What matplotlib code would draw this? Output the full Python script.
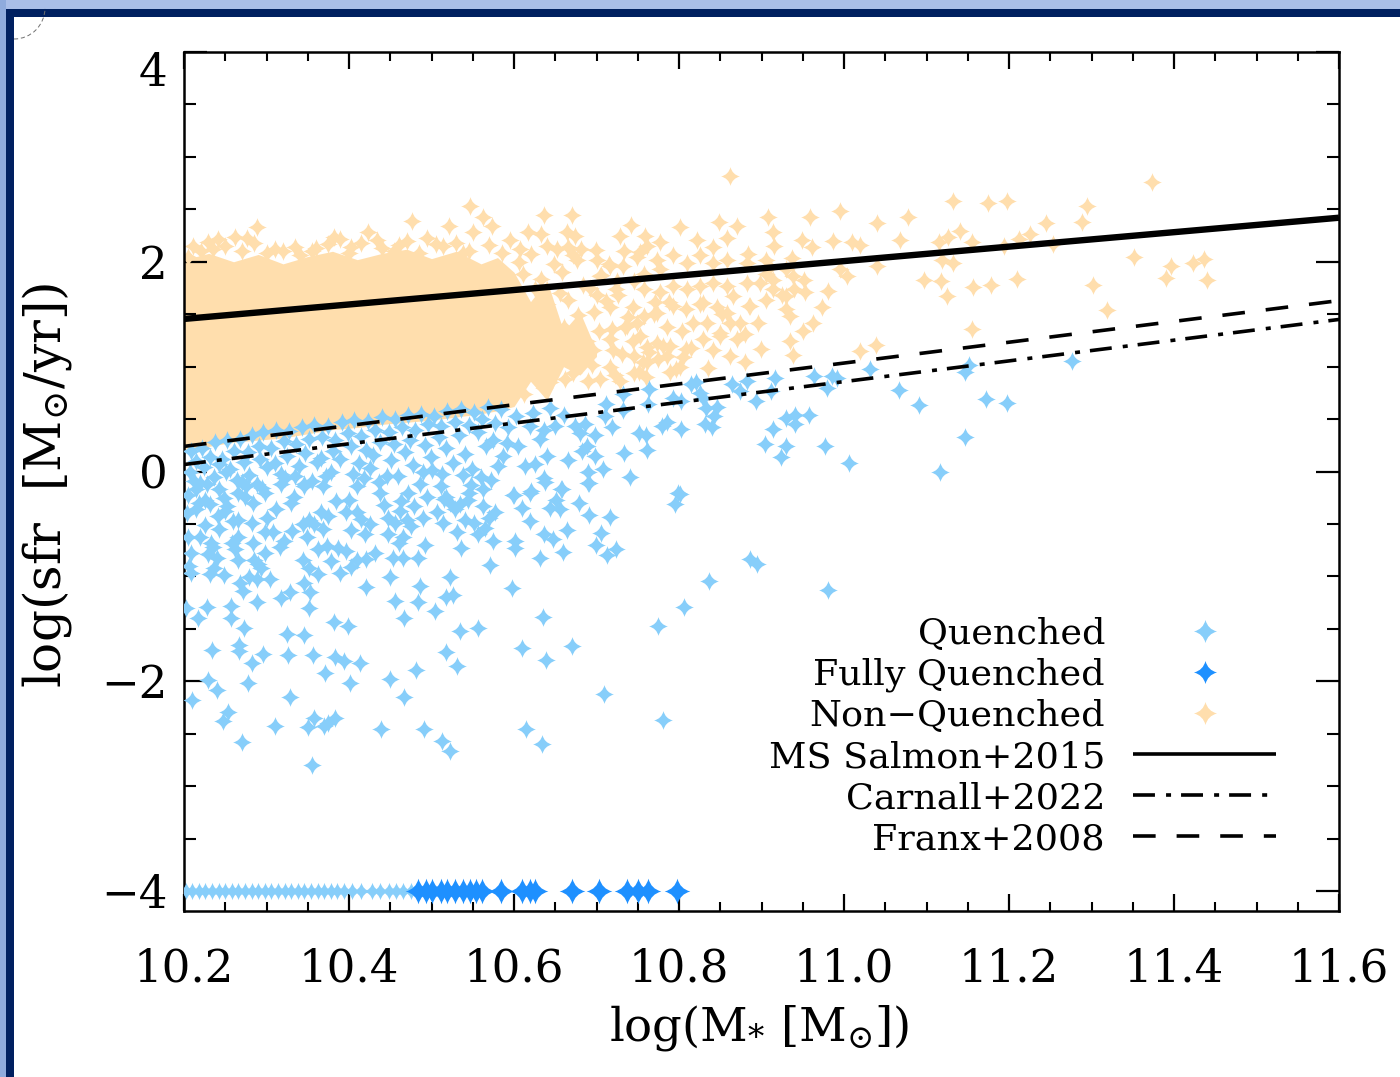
import matplotlib
matplotlib.use('Agg')
import matplotlib.pyplot as plt
from matplotlib.lines import Line2D
from matplotlib.path import Path
from matplotlib.patches import Rectangle, Arc

# solid part of the non-quenched cloud, too crowded to read single stars
dense_x = [10.2, 10.23, 10.26, 10.29, 10.32, 10.35, 10.38, 10.41, 10.44, 10.47, 10.50, 10.53,
           10.56, 10.58, 10.60, 10.62, 10.64, 10.66, 10.68, 10.70]
dense_top = [2.02, 2.08, 2.00, 2.07, 1.98, 2.05, 2.10, 2.02, 2.08, 2.12, 2.03, 2.10,
             1.98, 2.04, 1.90, 1.62, 1.82, 1.34, 1.52, 1.15]
dense_bottom = [0.20, 0.24, 0.28, 0.30, 0.32, 0.36, 0.40, 0.42, 0.45, 0.47, 0.49, 0.52,
                0.55, 0.58, 0.62, 0.86, 0.68, 1.00, 0.92, 1.10]

nonq_x = [10.862, 10.636, 10.670, 10.908, 10.959, 10.995, 11.040, 11.078, 11.132, 11.175,
          11.198, 11.295, 11.288, 11.245, 11.225, 11.212, 11.194, 11.253, 11.373, 11.352,
          11.396, 11.423, 11.436, 11.390, 11.440, 11.302, 11.210, 11.319, 11.155, 11.039,
          11.019, 11.097, 11.118, 11.125, 11.156, 11.178, 11.132, 11.119, 11.141, 11.126,
          11.115, 11.155, 11.068, 11.040, 11.004, 10.995, 11.010, 11.019, 10.987, 10.961,
          10.949, 10.914, 10.915, 10.870, 10.848, 10.801, 10.822, 10.777, 10.742, 10.728,
          10.759, 10.761, 10.664, 10.674, 10.617, 10.633, 10.640, 10.665, 10.701, 10.716,
          10.841, 10.858, 10.884, 10.937, 10.981, 10.973, 10.962, 10.950, 10.935, 10.953,
          10.938, 10.914, 10.896, 10.880, 10.935, 10.938, 10.899, 10.841, 10.862, 10.835,
          10.880, 10.805, 10.775, 10.789, 10.728, 10.690, 10.644, 10.834, 10.804, 10.817,
          10.862, 10.874, 10.846, 10.865, 10.898, 10.841, 10.810, 10.785, 10.761, 10.744,
          10.720, 10.756, 10.688, 10.744, 10.716, 10.777, 10.810, 10.841, 10.749,
          10.211, 10.229, 10.241, 10.262, 10.276, 10.288, 10.310, 10.335, 10.355, 10.382,
          10.389, 10.403, 10.423, 10.434, 10.476, 10.460, 10.495, 10.521, 10.550, 10.547,
          10.562, 10.573, 10.514, 10.538, 10.788, 10.826, 10.852, 10.905, 10.925, 10.780,
          10.796, 10.760, 10.735, 10.700, 10.725, 10.770, 10.815, 10.850, 10.885, 10.910,
          10.753, 10.773, 10.793, 10.825, 10.858, 10.882, 10.906, 10.930, 10.757, 10.777,
          10.793, 10.825, 10.858, 10.882, 10.914, 10.939, 10.951, 10.757, 10.773, 10.793,
          10.809, 10.829, 10.858, 10.886, 10.906, 10.930, 10.930, 10.737, 10.753, 10.773,
          10.789, 10.809, 10.829, 10.850, 10.870, 10.745, 10.761, 10.785, 10.801, 10.716,
          10.704, 10.672, 10.745, 10.716, 10.696, 10.724, 10.732, 10.704, 10.676, 10.652,
          10.607, 10.595,
          10.205, 10.220, 10.235, 10.250, 10.270, 10.285, 10.300, 10.320, 10.340, 10.360,
          10.375, 10.400, 10.415, 10.440, 10.455, 10.470, 10.485, 10.505, 10.530, 10.545,
          10.570, 10.585]
nonq_y = [2.82, 2.45, 2.45, 2.43, 2.43, 2.48, 2.37, 2.43, 2.58, 2.56,
          2.58, 2.53, 2.38, 2.37, 2.26, 2.22, 2.15, 2.17, 2.76, 2.05,
          1.96, 1.99, 2.03, 1.85, 1.83, 1.78, 1.84, 1.54, 1.355, 1.21,
          1.145, 1.83, 1.82, 1.67, 1.76, 1.78, 1.99, 2.02, 2.29, 2.24,
          2.19, 2.19, 2.21, 1.96, 1.86, 1.93, 2.19, 2.16, 2.20, 2.14,
          2.21, 2.28, 2.15, 2.34, 2.38, 2.33, 2.21, 2.19, 2.35, 2.25,
          2.25, 2.15, 2.28, 2.25, 2.28, 2.26, 2.15, 2.14, 2.02, 1.96,
          2.14, 2.23, 2.07, 2.04, 1.72, 1.57, 1.42, 1.34, 1.48, 1.71,
          1.86, 1.74, 1.42, 1.31, 1.24, 1.11, 1.17, 1.16, 1.10, 0.99,
          1.04, 1.09, 1.07, 0.95, 0.86, 0.86, 0.85, 1.42, 1.34, 1.42,
          1.42, 1.42, 1.57, 1.67, 1.80, 1.80, 1.74, 1.38, 1.19, 1.24,
          1.16, 1.04, 1.09, 1.57, 1.57, 1.93, 1.99, 1.99, 2.05,
          2.15, 2.19, 2.22, 2.24, 2.23, 2.33, 2.12, 2.14, 2.10, 2.24,
          2.22, 2.14, 2.28, 2.21, 2.39, 2.16, 2.23, 2.34, 2.28, 2.53,
          2.43, 2.34, 2.15, 2.08, 1.62, 1.60, 1.50, 1.88, 1.68, 1.20,
          0.98, 0.90, 1.38, 1.68, 1.82, 1.50, 1.18, 1.32, 1.58, 1.95,
          2.09, 2.02, 2.06, 2.06, 2.02, 1.99, 2.02, 1.93, 1.74, 1.71,
          1.77, 1.77, 1.77, 1.80, 1.83, 1.74, 1.83, 1.48, 1.51, 1.58,
          1.55, 1.61, 1.51, 1.58, 1.64, 1.67, 1.55, 1.39, 1.29, 1.23,
          1.20, 1.17, 1.26, 1.29, 1.26, 1.10, 1.04, 1.10, 1.00, 1.00,
          0.88, 0.94, 0.94, 1.26, 1.16, 1.74, 1.96, 1.86, 2.02, 2.12,
          2.12, 2.21,
          2.05, 2.10, 2.12, 2.15, 2.10, 2.18, 2.08, 2.10, 2.06, 2.13,
          2.17, 2.08, 2.18, 2.13, 2.10, 2.20, 2.08, 2.17, 2.18, 2.10,
          2.16, 2.08]

# right hand edge of the crowded part, stars still partly apart
edge_x = [10.612, 10.604, 10.621, 10.609, 10.618, 10.603, 10.625, 10.611, 10.606, 10.620,
          10.636, 10.629, 10.643, 10.634, 10.651, 10.627, 10.640, 10.656, 10.633, 10.648,
          10.662, 10.655, 10.671, 10.660, 10.678, 10.666, 10.684, 10.658, 10.672, 10.681,
          10.694, 10.688, 10.703, 10.697, 10.711, 10.692, 10.706, 10.715, 10.699,
          10.722, 10.731, 10.719, 10.738, 10.726, 10.745, 10.733,
          10.752, 10.764, 10.749, 10.771, 10.758]
edge_y = [0.74, 1.02, 1.18, 1.30, 1.52, 1.66, 1.74, 1.88, 2.00, 2.07,
          0.80, 0.98, 1.08, 1.22, 1.33, 1.45, 1.60, 1.70, 1.84, 1.98,
          0.88, 1.12, 1.20, 1.38, 1.49, 1.64, 1.78, 1.90, 2.06, 2.12,
          1.02, 1.24, 1.34, 1.52, 1.63, 1.75, 1.87, 1.98, 2.11,
          0.92, 1.12, 1.36, 1.47, 1.68, 1.82, 2.10,
          0.95, 1.14, 1.42, 1.62, 1.88]

q_x = [10.355, 10.270, 10.247, 10.253, 10.210, 10.240, 10.229, 10.277, 10.329, 10.310,
       10.350, 10.357, 10.370, 10.374, 10.383, 10.439, 10.491, 10.513, 10.522, 10.615,
       10.634, 10.781, 10.709, 10.670, 10.639, 10.610, 10.635, 10.774, 10.806, 10.836,
       10.886, 10.531, 10.517, 10.556, 10.534, 10.481, 10.450, 10.467, 10.401, 10.371,
       10.413, 10.394, 10.383, 10.356, 10.326, 10.296, 10.283, 10.267, 10.267, 10.234,
       10.346, 10.325, 10.273, 10.257, 10.257, 10.228, 10.217, 10.203, 10.382, 10.399,
       10.467, 10.504, 10.456, 10.484, 10.517, 10.526, 10.352, 10.289, 10.318, 10.329,
       10.353, 10.346, 10.272, 10.268, 10.279, 10.289, 10.304, 10.248, 10.231, 10.208,
       10.420, 10.450, 10.486, 10.523, 10.597, 10.571, 10.536, 10.574, 10.601, 10.601,
       10.632, 10.659, 10.699, 10.713, 10.724, 10.705, 10.664, 10.636, 10.647, 10.716,
       10.691, 10.679, 10.656, 10.644, 10.651, 10.795, 10.801, 10.619, 10.610, 10.600,
       10.620, 10.658, 10.691, 10.637,
       10.484, 10.466, 10.453, 10.431, 10.421, 10.403, 10.389, 10.410, 10.396, 10.387,
       10.373, 10.362, 10.352, 10.344, 10.363, 10.349, 10.331, 10.308, 10.298, 10.285,
       10.265, 10.240, 10.229, 10.208, 10.233, 10.219, 10.243, 10.266, 10.284, 10.298,
       10.282, 10.259, 10.226, 10.214, 10.231, 10.252, 10.266, 10.284, 10.312, 10.298,
       10.266, 10.243, 10.215, 10.333, 10.368, 10.366, 10.396, 10.410, 10.400, 10.419,
       10.456, 10.466, 10.461, 10.447, 10.475, 10.463, 10.479, 10.472, 10.438, 10.507,
       10.528, 10.514, 10.531, 10.556, 10.565, 10.551, 10.540, 10.577, 10.563, 10.544,
       10.517, 10.563, 10.512, 10.410, 10.368, 10.345, 10.317, 10.275, 10.219, 10.486,
       11.031, 11.151, 11.147, 11.067, 11.172, 11.091, 11.147, 11.116, 11.006, 10.977,
       10.958, 10.941, 10.930, 10.941, 10.914, 10.904, 10.930, 10.924, 10.964, 10.985,
       10.991, 10.979, 10.916, 10.882, 10.864, 10.874, 10.912, 10.893, 10.821, 10.815,
       10.825, 10.829, 10.846, 10.833, 10.842, 10.832, 10.840, 10.764, 10.793, 10.803,
       10.763, 10.732, 10.732, 10.712, 10.710, 10.719, 10.644, 10.660, 10.650, 10.779,
       10.786, 10.802, 10.751, 10.760, 10.761, 10.733, 10.708, 10.690, 10.740, 10.682,
       10.698, 10.666, 10.690, 10.657, 10.799, 10.619, 10.599, 10.636, 10.625, 10.613,
       10.631, 10.636, 10.619, 10.603, 10.605, 10.623, 10.674, 10.686, 10.680, 10.698,
       10.688, 10.587, 10.640,
       11.198, 10.895, 10.981, 11.276,
       # crowded strip just under the Franx line
       10.208, 10.222, 10.238, 10.252, 10.268, 10.283, 10.296, 10.312, 10.327, 10.343,
       10.358, 10.374, 10.391, 10.406, 10.423, 10.440, 10.456, 10.471, 10.487, 10.503,
       10.519, 10.536, 10.552, 10.568, 10.584,
       10.215, 10.231, 10.246, 10.261, 10.277, 10.291, 10.306, 10.321, 10.336, 10.352,
       10.367, 10.383, 10.399, 10.415, 10.432, 10.448, 10.464, 10.480, 10.496, 10.512,
       10.528, 10.545, 10.561, 10.577, 10.593,
       10.207, 10.224, 10.242, 10.256, 10.273, 10.292, 10.310, 10.325, 10.347, 10.366,
       10.381, 10.402, 10.421, 10.437, 10.455, 10.474, 10.492, 10.509, 10.533, 10.556,
       10.574,
       10.212, 10.236, 10.251, 10.279, 10.301, 10.318, 10.339, 10.361, 10.389, 10.412,
       10.429, 10.451, 10.468, 10.499, 10.517, 10.541, 10.566, 10.591,
       10.205, 10.228, 10.249, 10.264, 10.288, 10.334, 10.355, 10.378, 10.405, 10.425,
       10.446, 10.478, 10.501, 10.526, 10.549, 10.580,
       10.218, 10.241, 10.270, 10.295, 10.322, 10.345, 10.372, 10.418, 10.459, 10.490,
       10.513, 10.538, 10.560,
       10.204, 10.226, 10.250, 10.274, 10.300, 10.330, 10.358, 10.384, 10.415, 10.442,
       10.470, 10.495, 10.522, 10.548, 10.572, 10.205, 10.235, 10.258, 10.290, 10.316,
       10.344, 10.375, 10.402, 10.436, 10.462, 10.490, 10.515, 10.545, 10.206, 10.236,
       10.262, 10.293, 10.321, 10.352, 10.378, 10.425, 10.447, 10.492, 10.534, 10.570]
q_y = [-2.80, -2.58, -2.38, -2.29, -2.18, -2.08, -1.99, -2.02, -2.15, -2.43,
       -2.44, -2.35, -2.43, -2.40, -2.35, -2.45, -2.45, -2.57, -2.66, -2.45,
       -2.60, -2.37, -2.12, -1.66, -1.80, -1.68, -1.39, -1.47, -1.29, -1.04,
       -0.83, -1.85, -1.72, -1.49, -1.52, -1.89, -1.98, -2.15, -2.02, -1.92,
       -1.83, -1.81, -1.77, -1.75, -1.75, -1.74, -1.83, -1.65, -1.71, -1.70,
       -1.56, -1.55, -1.49, -1.40, -1.28, -1.29, -1.40, -1.30, -1.43, -1.47,
       -1.40, -1.33, -1.23, -1.24, -1.20, -1.18, -1.30, -1.24, -1.21, -1.15,
       -1.15, -1.06, -1.14, -1.06, -1.01, -1.02, -1.02, -0.99, -0.98, -0.97,
       -1.10, -1.01, -1.09, -1.01, -1.11, -0.89, -0.73, -0.66, -0.66, -0.73,
       -0.82, -0.77, -0.70, -0.80, -0.74, -0.59, -0.56, -0.60, -0.64, -0.43,
       -0.41, -0.30, -0.36, -0.35, -0.27, -0.31, -0.21, -0.47, -0.35, -0.22,
       -0.19, -0.17, -0.11, -0.10,
       -0.82, -0.82, -0.82, -0.78, -0.83, -0.91, -0.97, -0.84, -0.76, -0.73,
       -0.71, -0.98, -0.92, -0.84, -0.74, -0.62, -0.57, -0.58, -0.78, -0.84,
       -0.84, -0.82, -0.79, -0.78, -0.68, -0.62, -0.55, -0.62, -0.68, -0.58,
       -0.49, -0.47, -0.51, -0.36, -0.31, -0.33, -0.46, -0.30, -0.36, -0.20,
       -0.20, -0.17, -0.17, -0.24, -0.55, -0.39, -0.39, -0.39, -0.27, -0.60,
       -0.49, -0.62, -0.68, -0.60, -0.52, -0.28, -0.33, -0.20, -0.20, -0.39,
       -0.36, -0.49, -0.58, -0.60, -0.54, -0.49, -0.46, -0.39, -0.33, -0.27,
       -0.24, -0.17, -0.14, -0.14, -0.14, -0.14, -0.12, -0.14, -0.11, -0.12,
       0.98, 1.02, 0.95, 0.78, 0.69, 0.63, 0.33, 0.00, 0.08, 0.24,
       0.54, 0.54, 0.51, 0.45, 0.41, 0.26, 0.24, 0.14, 0.91, 0.91,
       0.89, 0.80, 0.89, 0.86, 0.83, 0.77, 0.77, 0.67, 0.85, 0.83,
       0.75, 0.70, 0.62, 0.61, 0.53, 0.45, 0.42, 0.79, 0.70, 0.67,
       0.64, 0.74, 0.59, 0.64, 0.53, 0.42, 0.61, 0.54, 0.43, 0.43,
       0.47, 0.41, 0.37, 0.35, 0.21, 0.18, 0.02, 0.00, -0.05, 0.20,
       0.15, 0.11, -0.11, -0.17, -0.20, -0.20, -0.22, -0.06, 0.07, 0.05,
       0.31, 0.40, 0.43, 0.53, 0.24, 0.56, 0.43, 0.45, 0.37, 0.35,
       0.24, 0.15, 0.15,
       0.65, -0.88, -1.13, 1.05,
       0.20, 0.22, 0.28, 0.30, 0.31, 0.35, 0.38, 0.40, 0.39, 0.42,
       0.44, 0.43, 0.47, 0.49, 0.48, 0.52, 0.50, 0.54, 0.55, 0.53,
       0.58, 0.60, 0.57, 0.62, 0.60,
       0.10, 0.14, 0.12, 0.20, 0.19, 0.24, 0.22, 0.29, 0.26, 0.31,
       0.33, 0.30, 0.37, 0.34, 0.40, 0.38, 0.42, 0.40, 0.45, 0.43,
       0.47, 0.44, 0.50, 0.46, 0.42,
       0.00, 0.04, 0.07, 0.02, 0.09, 0.12, 0.08, 0.15, 0.18, 0.13,
       0.20, 0.24, 0.21, 0.28, 0.26, 0.30, 0.25, 0.33, 0.35, 0.38,
       0.30,
       -0.09, -0.05, 0.00, -0.03, 0.04, -0.02, 0.05, 0.09, 0.12, 0.08,
       0.16, 0.11, 0.19, 0.14, 0.22, 0.17, 0.24, 0.27,
       -0.22, -0.12, -0.25, -0.08, -0.12, -0.04, -0.09, 0.00, -0.02, 0.03,
       -0.04, 0.06, 0.01, 0.08, 0.02, 0.05,
       -0.30, -0.42, -0.10, -0.16, -0.06, -0.12, -0.04, -0.06, -0.04, 0.00,
       -0.02, -0.03, -0.05,
       -0.40, -0.27, -0.38, -0.24, -0.44, -0.30, -0.50, -0.28, -0.45, -0.32,
       -0.46, -0.24, -0.30, -0.13, -0.08, -0.62, -0.72, -0.68, -0.88, -0.72,
       -0.50, -0.42, -0.56, -0.10, -0.38, -0.44, -0.26, -0.20, -0.90, -0.92,
       -0.74, -0.92, -0.66, -0.46, -0.85, -0.50, -0.44, -0.70, -0.31, -0.44]

# stars on the -4 floor, where no sfr was measured
floor_q_x = [10.202, 10.210, 10.218, 10.226, 10.234, 10.242, 10.250, 10.258, 10.266, 10.274,
             10.282, 10.290, 10.298, 10.306, 10.314, 10.322, 10.330, 10.338, 10.346, 10.354,
             10.362, 10.370, 10.378, 10.386, 10.394, 10.404, 10.415, 10.428, 10.437, 10.448,
             10.457, 10.466, 10.475]
floor_q_y = [-4.0] * len(floor_q_x)
floor_fq_x = [10.484, 10.493, 10.500, 10.511, 10.519, 10.528, 10.538, 10.547, 10.554, 10.561,
              10.584, 10.610, 10.619, 10.625, 10.670, 10.703, 10.737, 10.750, 10.763, 10.798]
floor_fq_y = [-4.0] * len(floor_fq_x)

line_x = [10.2, 11.6]
salmon_y = [1.455, 2.42]
carnall_y = [0.067, 1.45]
franx_y = [0.24, 1.63]

xticks = [10.2, 10.4, 10.6, 10.8, 11.0, 11.2, 11.4, 11.6]
xtick_labels = ['10.2', '10.4', '10.6', '10.8', '11.0', '11.2', '11.4', '11.6']
yticks = [-4, -2, 0, 2, 4]
ytick_labels = ['\u22124', '\u22122', '0', '2', '4']

NONQ = '#FFDEAD'
QUENCH = '#87CEFA'
FULLY = '#1E90FF'

plt.rcParams['font.family'] = ['DejaVu Serif']
plt.rcParams['mathtext.fontset'] = 'dejavuserif'
plt.rcParams['lines.scale_dashes'] = False

W, H = 1400, 1077
fig = plt.figure(figsize=(W / 100, H / 100), dpi=100)
ax = fig.add_axes([184 / W, 1 - 911 / H, (1339 - 184) / W, (911 - 52) / H])


def frame_bar(x0, y0, x1, y1, color):
    # window border from the slide, given in picture pixels
    fig.add_artist(Rectangle((x0 / W, 1 - y1 / H), (x1 - x0) / W, (y1 - y0) / H,
                             transform=fig.transFigure, color=color, lw=0, zorder=-5))


frame_bar(0, 0, W, 9, '#A9BEE8')
frame_bar(0, 0, 6, H, '#8FABDD')
frame_bar(6, 9, W, 17, '#002060')
frame_bar(6, 9, 14, H, '#002060')

# four pointed star with curved sides
c = 0.2
star = Path([(1, 0), (c, c), (0, 1), (-c, c), (-1, 0), (-c, -c), (0, -1), (c, -c), (1, 0)],
            [Path.MOVETO] + [Path.CURVE3] * 8)

ax.fill_between(dense_x, dense_bottom, dense_top, color=NONQ, lw=0, zorder=1)
ax.plot(nonq_x, nonq_y, ls='none', marker=star, ms=13.5, mfc=NONQ, mec='none', zorder=2)
ax.plot(edge_x, edge_y, ls='none', marker=star, ms=13.5, mfc=NONQ, mec='none', zorder=2)
ax.plot(q_x, q_y, ls='none', marker=star, ms=13.5, mfc=QUENCH, mec='none', zorder=3)
ax.plot(floor_q_x, floor_q_y, ls='none', marker=star, ms=12.5, mfc=QUENCH, mec='none', zorder=3)
ax.plot(floor_fq_x, floor_fq_y, ls='none', marker=star, ms=18.5, mfc=FULLY, mec='none', zorder=4)

dash = (0, (16.3, 15.1))
dashdot = (0, (15.8, 8, 3.6, 7.2))
ax.plot(line_x, salmon_y, color='k', lw=4.6, solid_capstyle='butt', zorder=5)
ax.plot(line_x, carnall_y, color='k', lw=2.6, ls=dashdot, dash_capstyle='butt', zorder=5)
ax.plot(line_x, franx_y, color='k', lw=2.6, ls=dash, dash_capstyle='butt', zorder=5)

ax.set_xlim(10.2, 11.6)
ax.set_ylim(-4.19, 4.0)
ax.set_xticks(xticks)
ax.set_xticklabels(xtick_labels)
ax.set_yticks(yticks)
ax.set_yticklabels(ytick_labels)
ax.set_xticks([10.2 + 0.05 * i for i in range(29)], minor=True)
ax.set_yticks([-4 + 0.5 * i for i in range(17)], minor=True)
ax.tick_params(axis='x', which='major', direction='in', top=True, length=12.2, width=1.6,
               labelsize=32.5, pad=26)
ax.tick_params(axis='x', which='minor', direction='in', top=True, length=6.5, width=1.5)
ax.tick_params(axis='y', which='major', direction='in', right=True, length=16.6, width=1.6,
               labelsize=32.5, pad=12)
ax.tick_params(axis='y', which='minor', direction='in', right=True, length=8.6, width=1.5)
for side in ax.spines.values():
    side.set_linewidth(1.8)
ax.get_yticklabels()[-1].set_verticalalignment('top')

ax.set_xlabel('log(M$_{*}$ [M$_{\\odot}$])', fontsize=33.5)
ax.xaxis.set_label_coords((759 - 184) / 1155, -(1003 - 911) / 859)
ax.set_ylabel('log(sfr  [M$_{\\odot}$/yr])', fontsize=36)
ax.yaxis.set_label_coords((74 - 184) / 1155, (911 - 485) / 859)

handles = [
    Line2D([], [], ls='none', marker=star, ms=16.6, mfc=QUENCH, mec='none'),
    Line2D([], [], ls='none', marker=star, ms=16.6, mfc=FULLY, mec='none'),
    Line2D([], [], ls='none', marker=star, ms=16.6, mfc=NONQ, mec='none'),
    Line2D([], [], color='k', lw=2.6, solid_capstyle='butt'),
    Line2D([], [], color='k', lw=2.6, ls=dashdot, dash_capstyle='butt'),
    Line2D([], [], color='k', lw=2.6, ls=dash, dash_capstyle='butt'),
]
labels = ['Quenched', 'Fully Quenched', 'Non\u2212Quenched', 'MS Salmon+2015', 'Carnall+2022', 'Franx+2008']
font_px = 36.5
ax.legend(handles, labels, loc='lower right', bbox_to_anchor=((1276 - 184) / 1155, (911 - 856) / 859),
          frameon=False, markerfirst=False, numpoints=1, fontsize=font_px * 0.72,
          handlelength=143 / font_px, handletextpad=28 / font_px, labelspacing=0.19,
          borderpad=0, borderaxespad=0)

ax.add_patch(Arc((14 / W, 1 - 8 / H), 62 / W, 62 / H, theta1=270, theta2=360,
                 transform=fig.transFigure, color='#707070', lw=0.7, ls=(0, (3, 2)), clip_on=False))

fig.savefig('out.png', dpi=100)
